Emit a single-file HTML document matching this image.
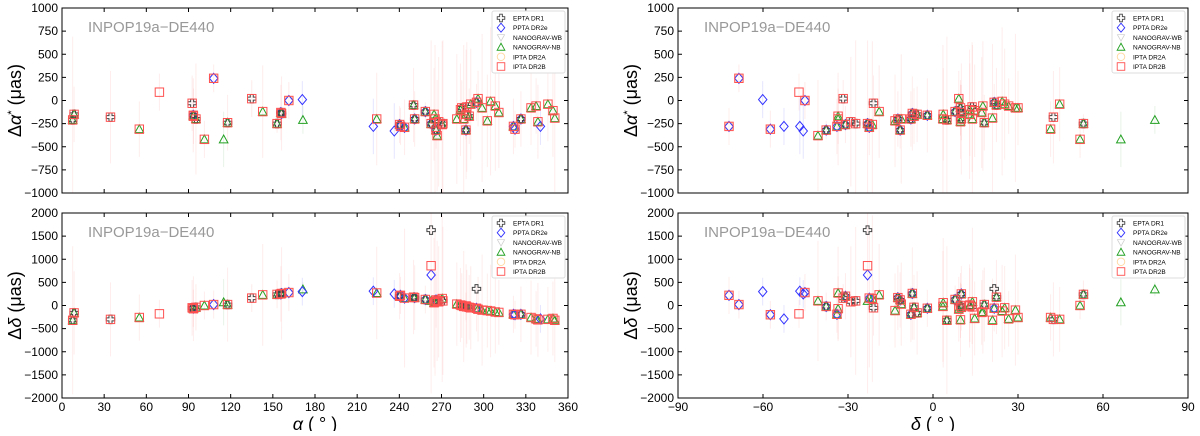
<!DOCTYPE html>
<html><head><meta charset="utf-8"><style>
body{margin:0;background:#fff;width:1200px;height:431px;overflow:hidden}
svg{font-family:"Liberation Sans","DejaVu Sans",sans-serif}
</style></head><body>
<svg id="chart" width="1200" height="431" xmlns="http://www.w3.org/2000/svg"></svg>
<script>
// pulsar data: name, RA (deg), Dec (deg), dAlpha* (uas), dDelta (uas)
const psrNames=["J0030+0451","J0034-0534","J0218+4232","J0340+4130","J0437-4715","J0610-2100","J0613-0200","J0614-3329","J0621+1002","J0645+5158","J0711-6830","J0740+6620","J0751+1807","J0900-3144","J0931-1902","J1012+5307","J1022+1001","J1024-0719","J1045-4509","J1125-6014","J1446-4701","J1455-3330","J1545-4550","J1600-3053","J1603-7202","J1614-2230","J1640+2224","J1643-1224","J1713+0747","J1730-2304","J1738+0333","J1741+1351","J1744-1134","J1747-4036","J1751-2857","J1802-2124","J1804-2717","J1843-1113","J1853+1303","J1857+0943","J1903+0327","J1909-3744","J1910+1256","J1911+1347","J1918-0642","J1923+2515","J1939+2134","J1944+0907","J1955+2908","J2010-1323","J2019+2425","J2033+1734","J2043+1711","J2124-3358","J2129-5721","J2145-0750","J2214+3000","J2229+2643","J2234+0944","J2241-5236","J2302+4442","J2317+1439","J2322+2057","J1125+7819"];
const raDeg=[7.6,8.6,34.5,55,69.3,92.6,93.4,93.5,95.3,101.3,107.9,115,117.8,135,142.8,153,155.7,156.2,161.4,171,221.5,223.9,236.4,240.2,240.8,243.7,250.1,250.9,258.5,262.6,264.7,265.4,266.1,266.9,268,270.5,271,280.9,283.5,284.4,285.8,287.4,287.5,288,289.7,290.8,294.9,296,298.9,302.6,304.9,308.3,310.8,321.2,322.3,326.5,333.7,337.3,338.6,340.4,345.7,349.3,350.6,171.4];
const decDeg=[4.9,-5.6,42.5,41.5,-47.3,-21,-2,-33.5,10,51.9,-68.5,66.3,18.1,-31.7,-19,53.1,10,-7.3,-45.2,-60.1,-47,-33.5,-45.8,-30.9,-72,-22.5,22.4,-12.4,7.8,-23.1,3.6,13.9,-11.6,-40.6,-29,-21.4,-27.3,-11.2,13,9.7,3.5,-37.7,12.9,13.8,-6.7,25.3,21.6,9.1,29.1,-13.4,24.4,17.6,17.2,-33.9,-57.4,-7.8,30,26.7,9.7,-52.6,44.7,14.7,21,78.3];
const dAlpha=[-210,-150,-180,-310,90,-30,-160,-170,-200,-420,240,-420,-240,20,-120,-250,-130,-140,0,10,-280,-200,-330,-260,-280,-290,-50,-200,-120,-250,-150,-200,-320,-380,-230,-260,-250,-200,-100,-80,-200,-320,-150,-70,-170,-40,-20,20,-80,-220,-10,-60,-130,-280,-310,-200,-80,-60,-230,-280,-40,-110,-190,-210];
const dDelta=[-320,-160,-300,-260,-180,-50,-60,-70,-40,0,20,70,20,160,230,240,250,260,280,300,310,270,250,200,220,160,180,170,130,100,60,80,120,100,80,150,100,30,10,0,-20,-20,-10,-30,-40,-50,-60,-80,-100,-110,-120,-140,-150,-190,-200,-190,-260,-290,-310,-290,-300,-280,-320,350];
// membership: E=EPTA DR1, P=PPTA DR2e, W=NANOGrav-WB, N=NANOGrav-NB, I=IPTA DR2A, R=IPTA DR2B
const members=["EWNIR","ENR","ER","NR","R","ER","EPNR","NR","ENR","NR","PIR","N","ENR","ER","NR","ENR","EPNR","EPNR","PIR","P","P","NR","P","EPNR","PIR","PNR","ENR","EPNR","EPNR","EPNR","NR","NR","EPNR","NR","ER","NR","ER","NR","NR","ENR","NR","EPNR","NR","ER","ENR","NR","EPNR","NR","NR","NR","NR","NR","NR","PNR","PIR","EPNR","NR","NR","NR","P","NR","NR","NR","N"];
const errA=[900,300,500,300,200,300,400,300,600,200,150,300,300,200,500,100,300,400,200,200,300,500,300,200,200,300,400,300,100,900,500,800,200,600,700,900,900,700,500,300,800,100,700,700,300,600,200,300,800,500,800,700,600,300,200,300,400,300,400,200,400,500,800,150];
const errD=[1600,900,800,500,300,600,400,700,500,300,300,500,800,300,1100,300,600,1000,400,300,300,1000,300,500,400,1500,800,700,300,2000,1400,1600,600,1300,1200,1800,1600,900,800,700,1200,300,900,800,700,900,500,700,1200,800,1000,900,700,400,300,600,800,600,800,300,700,800,900,150];
// outlier overrides (psr index, series, dDelta)
const ovIdx=[29,29,29,46];
const ovSer=["E","R","P","E"];
const ovDD=[1630,860,660,360];

const yTicksA=[-1000,-750,-500,-250,0,250,500,750,1000];
const yTicksD=[-2000,-1500,-1000,-500,0,500,1000,1500,2000];
const xTicksRA=[0,30,60,90,120,150,180,210,240,270,300,330,360];
const xTicksDec=[-90,-60,-30,0,30,60,90];
const seriesCodes=["E","P","W","N","I","R"];
const seriesNames=["EPTA DR1","PPTA DR2e","NANOGRAV-WB","NANOGRAV-NB","IPTA DR2A","IPTA DR2B"];

const NS="http://www.w3.org/2000/svg";
const svg=document.getElementById('chart');
function mk(t,a,p){const e=document.createElementNS(NS,t);for(const k in a)e.setAttribute(k,a[k]);(p||svg).appendChild(e);return e;}

function marker(g,code,x,y){
  let e;
  if(code==="E"){e=mk('path',{d:`M${x-1.5},${y-4.2}h3v2.7h2.7v3h-2.7v2.7h-3v-2.7h-2.7v-3h2.7z`,fill:'none',stroke:'#444','stroke-width':1},g);}
  else if(code==="P"){e=mk('path',{d:`M${x},${y-5}L${x+4.2},${y}L${x},${y+5}L${x-4.2},${y}Z`,fill:'none',stroke:'#3333ff','stroke-width':1},g);}
  else if(code==="W"){e=mk('path',{d:`M${x-4},${y-3}L${x+4},${y-3}L${x},${y+4}Z`,fill:'none',stroke:'#ccc','stroke-width':0.8},g);}
  else if(code==="N"){e=mk('path',{d:`M${x-4.3},${y+3.5}L${x+4.3},${y+3.5}L${x},${y-4.3}Z`,fill:'none',stroke:'#22a022','stroke-width':1},g);}
  else if(code==="I"){e=mk('circle',{cx:x,cy:y,r:4.2,fill:'none',stroke:'#ffd8a0','stroke-width':1},g);}
  else {e=mk('rect',{x:x-4.2,y:y-4.2,width:8.4,height:8.4,fill:'none',stroke:'#ff5050','stroke-width':1},g);}
  return e;
}

function panel(opt){
  const {x0,x1,y0,y1,xmin,xmax,ymin,ymax,xKey,yKey,err,yTicks,xTicks,showX,ylab,xlab,name}=opt;
  const sx=v=>x0+(v-xmin)/(xmax-xmin)*(x1-x0);
  const sy=v=>y1-(v-ymin)/(ymax-ymin)*(y1-y0);
  const g=mk('g',{});
  
  
  const clip='clip-'+name;
  const cp=mk('clipPath',{id:clip},g);mk('rect',{x:x0,y:y0,width:x1-x0,height:y1-y0},cp);
  const pg=mk('g',{'clip-path':`url(#${clip})`},g);
  
  
  for(let i=0;i<psrNames.length;i++){
    const xv=sx(xKey[i]);
    const col=members[i].includes('R')?'rgba(255,80,80,0.11)':(members[i].includes('P')?'rgba(80,80,255,0.15)':'rgba(60,160,60,0.12)');
    const l=mk('line',{x1:xv,x2:xv,y1:sy(yKey[i]-err[i]),y2:sy(yKey[i]+err[i]),stroke:col,'stroke-width':1},pg);
    
    
  }
  for(const c of ["W","I","N","P","E","R"]){
    for(let i=0;i<psrNames.length;i++){
      if(!members[i].includes(c))continue;
      let yval=yKey[i];
      if(yKey===dDelta){for(let k=0;k<ovIdx.length;k++)if(ovIdx[k]===i&&ovSer[k]===c)yval=ovDD[k];}
      const m=marker(pg,c,sx(xKey[i]),sy(yval));
      
      
    }
  }
  const fr=mk('rect',{x:x0,y:y0,width:x1-x0,height:y1-y0,fill:'none',stroke:'#000','stroke-width':1},g);
  
  
  for(const t of yTicks){
    const y=sy(t);
    mk('line',{x1:x0,x2:x0+4,y1:y,y2:y,stroke:'#000'},g);
    mk('line',{x1:x1,x2:x1-4,y1:y,y2:y,stroke:'#000'},g);
    const tx=mk('text',{x:x0-4,y:y+4,'text-anchor':'end','font-size':12},g);
    tx.textContent=t<0?'\u2212'+(-t):t;
    
    
  }
  for(const t of xTicks){
    const x=sx(t);
    mk('line',{x1:x,x2:x,y1:y1,y2:y1-4,stroke:'#000'},g);
    mk('line',{x1:x,x2:x,y1:y0,y2:y0+4,stroke:'#000'},g);
    if(showX){
      const tx=mk('text',{x:x,y:y1+13,'text-anchor':'middle','font-size':12},g);
      tx.textContent=t<0?'\u2212'+(-t):t;
      
      
    }
  }
  const yl=mk('text',{x:0,y:0,transform:`translate(${x0-41},${(y0+y1)/2}) rotate(-90)`,'text-anchor':'middle','font-size':18},g);
  yl.innerHTML=ylab;
  
  
  if(xlab){
    const xl=mk('text',{x:(x0+x1)/2,y:y1+32,'text-anchor':'middle','font-size':18},g);
    xl.innerHTML=xlab;
    
    
  }
  const an=mk('text',{x:x0+26,y:y0+24,'font-size':15,fill:'#999'},g);
  an.textContent='INPOP19a\u2212DE440';
  
  
  const lg=mk('g',{},g);
  
  
  const lx=x1-76,ly=y0+3;
  mk('rect',{x:lx,y:ly,width:73,height:62,fill:'#fff',stroke:'#ddd','stroke-width':1,rx:2},lg);
  for(let k=0;k<seriesCodes.length;k++){
    const yy=ly+7+k*9.7;
    const le=mk('g',{},lg);
    
    
    const m=marker(le,seriesCodes[k],lx+9,yy);
    m.setAttribute('transform',`translate(${lx+9},${yy}) scale(0.9) translate(${-(lx+9)},${-yy})`);
    const t=mk('text',{x:lx+21,y:yy+2.5,'font-size':6.5},le);
    t.textContent=seriesNames[k];
  }
}
const ylA='\u0394<tspan font-style="italic">\u03b1</tspan><tspan baseline-shift="super" font-size="11">*</tspan> (\u03bcas)';
const ylD='\u0394<tspan font-style="italic">\u03b4</tspan> (\u03bcas)';
panel({name:'panel-ra-dalpha',x0:62,x1:568,y0:8,y1:193,xmin:0,xmax:360,ymin:-1000,ymax:1000,xKey:raDeg,yKey:dAlpha,err:errA,yTicks:yTicksA,xTicks:xTicksRA,showX:false,ylab:ylA});
panel({name:'panel-ra-ddelta',x0:62,x1:568,y0:213,y1:398,xmin:0,xmax:360,ymin:-2000,ymax:2000,xKey:raDeg,yKey:dDelta,err:errD,yTicks:yTicksD,xTicks:xTicksRA,showX:true,ylab:ylD,xlab:'<tspan font-style="italic">\u03b1</tspan> ( \u00b0 )'});
panel({name:'panel-dec-dalpha',x0:678,x1:1188,y0:8,y1:193,xmin:-90,xmax:90,ymin:-1000,ymax:1000,xKey:decDeg,yKey:dAlpha,err:errA,yTicks:yTicksA,xTicks:xTicksDec,showX:false,ylab:ylA});
panel({name:'panel-dec-ddelta',x0:678,x1:1188,y0:213,y1:398,xmin:-90,xmax:90,ymin:-2000,ymax:2000,xKey:decDeg,yKey:dDelta,err:errD,yTicks:yTicksD,xTicks:xTicksDec,showX:true,ylab:ylD,xlab:'<tspan font-style="italic">\u03b4</tspan> ( \u00b0 )'});
</script>
</body></html>
